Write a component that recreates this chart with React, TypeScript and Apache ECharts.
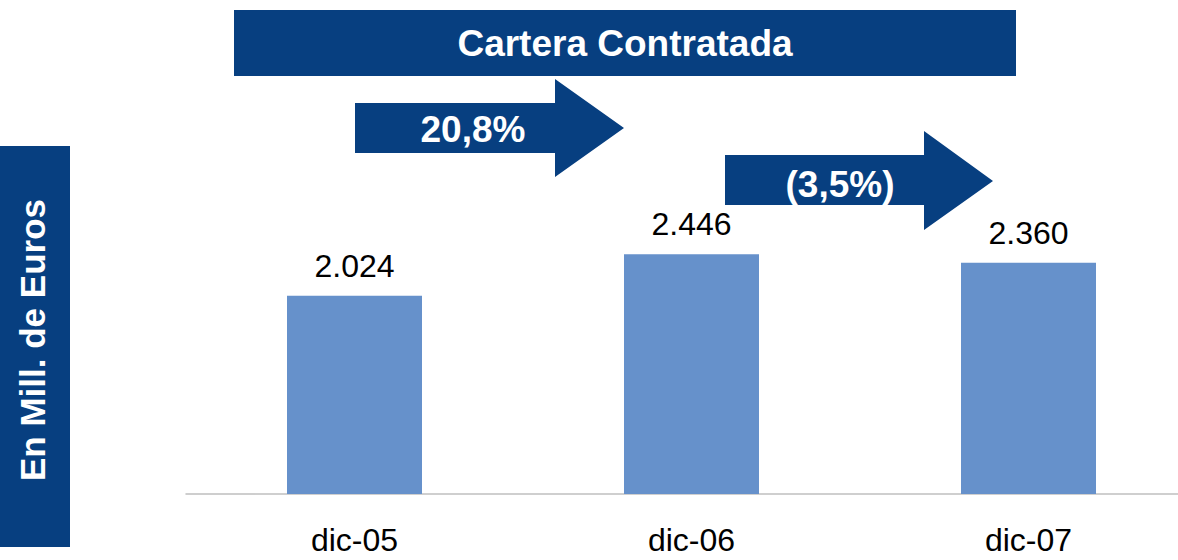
import React, { useEffect, useRef } from "react";
import * as echarts from "echarts";

const categories = ["dic-05", "dic-06", "dic-07"];
const values = [2024, 2446, 2360];
const titleText = "Cartera Contratada";
const axisTitle = "En Mill. de Euros";
const growthLabels = ["20,8%", "(3,5%)"];

const DARK = "#073F80";
const BAR = "#6691CB";
const FONT = "'Liberation Sans', Arial, Helvetica, sans-serif";

const fmt = (v: number) => {
  const s = String(Math.round(v));
  return s.replace(/\B(?=(\d{3})+(?!\d))/g, ".");
};

export default function App() {
  const ref = useRef<HTMLDivElement>(null);
  useEffect(() => {
    if (!ref.current) return;
    const chart = echarts.init(ref.current, undefined, { renderer: "svg" });
    chart.setOption({
      animation: false,
      backgroundColor: "#ffffff",
      grid: { left: 186, width: 1011, top: 200, height: 294, outerBoundsMode: "none", containLabel: false },
      xAxis: {
        type: "category",
        data: categories,
        axisTick: { show: false },
        axisLine: { lineStyle: { color: "#BFBFBF", width: 1.5 } },
        axisLabel: { color: "#000", fontSize: 32, fontFamily: FONT, margin: 30 },
      },
      yAxis: { type: "value", min: 0, max: 3000, show: false, splitLine: { show: false } },
      series: [
        {
          type: "bar",
          data: values,
          barWidth: 135,
          itemStyle: { color: BAR },
          label: {
            show: true,
            position: "top",
            distance: 14,
            color: "#000",
            fontSize: 32,
            fontFamily: FONT,
            formatter: (p: any) => fmt(p.value),
          },
        },
      ],
      graphic: [
        {
          type: "rect",
          shape: { x: 234, y: 10, width: 782, height: 66 },
          style: { fill: DARK },
        },
        {
          type: "text",
          x: 625,
          y: 43,
          style: {
            text: titleText,
            fill: "#fff",
            font: `bold 37px ${FONT}`,
            align: "center",
            verticalAlign: "middle",
          },
        },
        {
          type: "polygon",
          shape: {
            points: [
              [355, 103], [555, 103], [555, 79], [624, 128], [555, 177], [555, 153], [355, 153],
            ],
          },
          style: { fill: DARK },
        },
        {
          type: "text",
          x: 473,
          y: 129,
          style: {
            text: growthLabels[0],
            fill: "#fff",
            font: `bold 37px ${FONT}`,
            align: "center",
            verticalAlign: "middle",
          },
        },
        {
          type: "polygon",
          shape: {
            points: [
              [725, 155], [924, 155], [924, 131], [993, 181], [924, 230], [924, 205], [725, 205],
            ],
          },
          style: { fill: DARK },
        },
        {
          type: "text",
          x: 840,
          y: 184,
          style: {
            text: growthLabels[1],
            fill: "#fff",
            font: `bold 37px ${FONT}`,
            align: "center",
            verticalAlign: "middle",
          },
        },
        {
          type: "rect",
          shape: { x: 0, y: 146, width: 70, height: 401 },
          style: { fill: DARK },
        },
        {
          type: "text",
          x: 32,
          y: 340,
          rotation: Math.PI / 2,
          style: {
            text: axisTitle,
            fill: "#fff",
            font: `bold 35px ${FONT}`,
            align: "center",
            verticalAlign: "middle",
          },
        },
      ],
    });
    return () => chart.dispose();
  }, []);
  return (
    <div
      ref={ref}
      style={{ position: "fixed", left: 0, top: 0, width: 1178, height: 560, background: "#fff" }}
    />
  );
}
